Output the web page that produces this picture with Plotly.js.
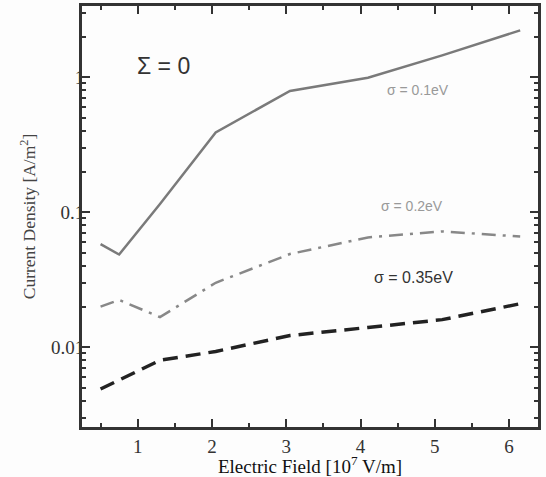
<!DOCTYPE html>
<html>
<head>
<meta charset="utf-8">
<script src="https://cdn.plot.ly/plotly-3.0.1.min.js"></script>
<style>html,body{margin:0;padding:0;background:#fdfdfd;}#chart{width:546px;height:477px;}</style>
</head>
<body>
<div id="chart"></div>
<script>
// Electric field [10^7 V/m]
const fieldX = [0.5, 0.75, 1.3, 2.05, 3.05, 4.1, 5.1, 6.15];
// Current density [A/m^2]
const sigma01 = [0.058, 0.0486, 0.115, 0.39, 0.79, 0.99, 1.45, 2.22];
const sigma02 = [0.020, 0.0224, 0.0167, 0.030, 0.049, 0.065, 0.072, 0.066];
const sigma035 = [0.0049, 0.0057, 0.0080, 0.0093, 0.0122, 0.0140, 0.0160, 0.0210];

const xTicks = [1, 2, 3, 4, 5, 6];
const xMinor = [0.5, 1.5, 2.5, 3.5, 4.5, 5.5];
const yTicks = [0.01, 0.1, 1];
const yTickText = ['0.01', '0.1', '1'];
const yMinor = [0.002,0.003,0.004,0.005,0.006,0.007,0.008,0.009,
                0.02,0.03,0.04,0.05,0.06,0.07,0.08,0.09,
                0.2,0.3,0.4,0.5,0.6,0.7,0.8,0.9,2,3];

const serif = 'Liberation Serif, Times New Roman, serif';
const sans = 'Liberation Sans, Arial, sans-serif';

const traces = [
  {x: fieldX, y: sigma01, mode: 'lines', line: {color: '#7a7a7a', width: 2.5}, name: 'σ = 0.1eV'},
  {x: fieldX, y: sigma02, mode: 'lines', line: {color: '#888888', width: 2.5, dash: '14px,7px,3px,7px'}, name: 'σ = 0.2eV'},
  {x: fieldX, y: sigma035, mode: 'lines', line: {color: '#222222', width: 3.5, dash: '15px,8px'}, name: 'σ = 0.35eV'}
];

const axisCommon = {
  showline: true, linecolor: '#333', linewidth: 3, mirror: 'allticks',
  ticks: 'inside', ticklen: 8, tickwidth: 2, tickcolor: '#333',
  showgrid: false, zeroline: false,
  tickfont: {family: serif, size: 19, color: '#333'}
};

const layout = {
  width: 546, height: 477,
  paper_bgcolor: '#fdfdfd', plot_bgcolor: '#fdfdfd',
  margin: {l: 82, r: 8, t: 6, b: 50},
  showlegend: false,
  xaxis: Object.assign({}, axisCommon, {
    range: [0.25, 6.39], tickmode: 'array', tickvals: xTicks,
    minor: {tickmode: 'array', tickvals: xMinor, ticks: 'inside', ticklen: 4, tickwidth: 2, tickcolor: '#333'},
    title: {text: 'Electric Field [10<sup>7</sup> V/m]', font: {family: serif, size: 19, color: '#111'}, standoff: 5}
  }),
  yaxis: Object.assign({}, axisCommon, {
    type: 'log', range: [-2.591, 0.527], tickmode: 'array', tickvals: yTicks, ticktext: yTickText,
    ticklabelstandoff: -9,
    minor: {tickmode: 'array', tickvals: yMinor, ticks: 'inside', ticklen: 4, tickwidth: 2, tickcolor: '#333'},
    title: {text: 'Current Density [A/m<sup>2</sup>]', font: {family: serif, size: 17.5, color: '#444'}, standoff: 11}
  }),
  annotations: [
    {x: 1.354, y: Math.log10(1.2), xref: 'x', yref: 'y', text: 'Σ = 0', showarrow: false,
     font: {family: sans, size: 23, color: '#333'}, xanchor: 'center'},
    {x: 4.77, y: Math.log10(0.8), xref: 'x', yref: 'y', text: 'σ = 0.1eV', showarrow: false,
     font: {family: sans, size: 14, color: '#999'}, xanchor: 'center'},
    {x: 4.69, y: Math.log10(0.112), xref: 'x', yref: 'y', text: 'σ = 0.2eV', showarrow: false,
     font: {family: sans, size: 14, color: '#999'}, xanchor: 'center'},
    {x: 4.71, y: Math.log10(0.0328), xref: 'x', yref: 'y', text: 'σ = 0.35eV', showarrow: false,
     font: {family: sans, size: 16, color: '#333'}, xanchor: 'center'}
  ]
};

Plotly.newPlot('chart', traces, layout, {displayModeBar: false, staticPlot: true});
</script>
</body>
</html>
